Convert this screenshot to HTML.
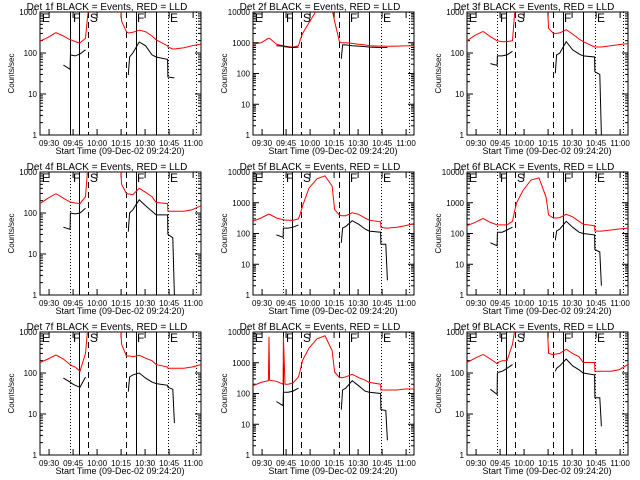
<!DOCTYPE html>
<html><head><meta charset="utf-8"><style>
html,body{margin:0;padding:0;background:#fff}
svg{display:block}
text{font-family:"Liberation Sans",sans-serif;fill:#000}
</style></head><body>
<svg id="chart" width="640" height="480" viewBox="0 0 640 480" xmlns="http://www.w3.org/2000/svg">
<rect x="0" y="0" width="640" height="480" fill="#fff"/>
</svg>
<script>
const times = [0,5,9.6,10,10.4,14.6,18.8,19.0,20,22,25,28.4,29.6,31,35,40,45,49.4,51,54,55.2,56,58,62,66,70,72.6,79.7,79.9,83,84,90,95,100.5];
const n = null;
const red1 = [195,240,310,310,310,260,210,210,205,190,175,230,700,2000,5000,8000,8000,5000,600,330,310,310,320,360,330,260,210,150,140,125,125,135,150,165];
const blk1 = [n,n,n,n,n,51,40,90,88,85,95,120,n,n,n,n,n,n,n,n,29,80,100,185,150,90,80,70,26,25,25,n,n,n];
const red2 = [900,1000,1400,1400,1400,900,800,800,780,750,720,800,1300,2000,4500,12000,12000,12000,5000,1100,1000,1000,1000,950,900,850,800,780,780,770,770,780,790,800];
const blk2 = [n,n,n,n,n,800,780,750,740,720,700,720,n,n,n,n,n,n,n,n,300,850,850,800,780,750,720,700,700,700,700,n,n,n];
const red3 = [200,270,330,330,330,250,200,200,195,190,190,200,800,2000,5000,8000,8000,5000,400,300,300,300,310,370,290,220,190,140,140,140,140,150,160,170];
const blk3 = [n,n,n,n,n,55,50,85,85,85,90,110,n,n,n,n,n,n,n,n,32,90,100,190,120,95,85,80,35,30,1,n,n,n];
const red4 = [170,230,290,290,290,230,185,185,180,175,170,250,1000,3000,6000,8000,8000,5000,500,300,290,290,280,400,320,250,180,170,110,110,110,110,120,150];
const blk4 = [n,n,n,n,n,45,40,100,98,95,100,130,n,n,n,n,n,n,n,n,35,100,120,210,150,110,90,90,30,25,1,n,n,n];
const red5 = [250,320,420,420,420,320,280,280,275,270,270,300,450,800,3000,6000,7500,3500,600,400,380,380,380,470,420,320,270,240,160,150,150,160,180,210];
const blk5 = [n,n,n,n,n,90,75,150,150,150,160,190,n,n,n,n,n,n,n,n,50,150,170,260,200,140,120,110,45,45,3,n,n,n];
const red6 = [180,230,300,300,300,230,190,190,190,190,190,250,500,1000,2500,5500,6500,1500,400,320,320,320,330,420,350,250,200,180,120,120,120,130,140,150];
const blk6 = [n,n,n,n,n,50,40,110,110,110,130,160,n,n,n,n,n,n,n,n,60,120,140,250,160,110,100,90,30,25,2,n,n,n];
const red7 = [180,220,270,270,270,220,160,160,150,140,110,300,1000,3000,6000,8000,8000,5000,500,260,260,260,250,270,230,200,160,140,130,130,130,130,140,160];
const blk7 = [n,n,n,n,n,75,60,60,55,50,45,80,n,n,n,n,n,n,n,n,35,80,90,100,75,60,55,50,45,40,6,n,n,n];
const red8 = [180,230,260,7000,270,250,200,7000,200,200,220,350,600,1200,3000,6000,7500,2500,500,330,330,330,350,420,330,270,230,200,130,130,130,130,140,140];
const blk8 = [n,n,n,n,n,55,40,110,110,110,120,150,n,n,n,n,n,n,n,n,30,130,150,260,180,120,110,100,30,28,3,n,n,n];
const red9 = [180,230,280,280,280,220,170,170,185,200,200,500,1000,3000,6000,8000,8000,5000,300,280,290,290,300,380,300,250,180,180,110,110,110,110,120,160];
const blk9 = [n,n,n,n,n,40,30,100,105,110,130,160,n,n,n,n,n,n,n,n,110,130,150,220,150,120,100,90,25,25,5,n,n,n];
const panelReds = [red1,red2,red3,red4,red5,red6,red7,red8,red9];
const panelBlacks = [blk1,blk2,blk3,blk4,blk5,blk6,blk7,blk8,blk9];
const panelTops = [1000,10000,1000,1000,10000,10000,1000,10000,1000];
const firstLineDotted = [false,false,true,true,true,true,true,false,true];
const tickLabels = ["09:30","09:45","10:00","10:15","10:30","10:45","11:00"];
const tickTimes = [5.67,20.67,35.67,50.67,65.67,80.67,95.67];
const markerTimes = [18.9,24.6,30.2,53.6,59.8,72.7,79.8,97.3];
const markerStyles = ["first","solid","dash","dash","solid","solid","dot","dot"];
const regionLetters = ["E","F","S","F","E"];
const letterTimes = [1.2,20.6,31.2,60.6,81.2];

const NS="http://www.w3.org/2000/svg";
const svg=document.getElementById('chart');
function mk(tag,attrs,parent){const e=document.createElementNS(NS,tag);for(const k in attrs)e.setAttribute(k,attrs[k]);(parent||svg).appendChild(e);return e;}
const L=40,R=201,T=12,B=135,TMAX=100.6;
const xs=t=>L+(R-L)*t/TMAX;

for(let p=0;p<9;p++){
  const ox=Math.round((p%3)*213.33), oy=Math.floor(p/3)*160;
  const top=panelTops[p];
  const ldec=Math.log10(top);
  const ys=v=>B-(B-T)*Math.log10(v)/ldec;
  const g=mk('g',{transform:`translate(${ox},${oy})`});
  
  
  const clipId='clip'+p;
  const cp=mk('clipPath',{id:clipId},g);
  mk('rect',{x:L,y:T,width:R-L,height:B-T},cp);
  // title
  const ti=mk('text',{x:107,y:10,'font-size':'10','text-anchor':'middle'},g);
  ti.textContent=`Det ${p+1}f BLACK = Events, RED = LLD`;
  
  
  // frame
  const fr=mk('rect',{x:L,y:T,width:R-L,height:B-T,fill:'none',stroke:'#000','stroke-width':1},g);
  
  
  // y ticks
  for(let d=0;d<=ldec;d++){
    const y=ys(Math.pow(10,d));
    mk('line',{x1:L,x2:L+6,y1:y,y2:y,stroke:'#000'},g);
    mk('line',{x1:R-6,x2:R,y1:y,y2:y,stroke:'#000'},g);
    const lb=mk('text',{x:L-3,y:y+3,'font-size':'8','text-anchor':'end'},g);
    lb.textContent=String(Math.pow(10,d));
    
    
    if(d<ldec){for(let m=2;m<10;m++){const yy=ys(m*Math.pow(10,d));
      mk('line',{x1:L,x2:L+3,y1:yy,y2:yy,stroke:'#000'},g);
      mk('line',{x1:R-3,x2:R,y1:yy,y2:yy,stroke:'#000'},g);}}
  }
  // x ticks
  tickTimes.forEach((t,i)=>{
    const x=xs(t);
    mk('line',{x1:x,x2:x,y1:B,y2:B-6,stroke:'#000'},g);
    mk('line',{x1:x,x2:x,y1:T,y2:T+6,stroke:'#000'},g);
    const lb=mk('text',{x:x,y:B+11,'font-size':'8','text-anchor':'middle'},g);
    lb.textContent=tickLabels[i];
    
    
  });
  const xt=mk('text',{x:120,y:154,'font-size':'9','text-anchor':'middle'},g);
  xt.textContent='Start Time (09-Dec-02 09:24:20)';
  
  
  const yt=mk('text',{x:0,y:0,'font-size':'8','text-anchor':'middle',transform:`translate(14,${(T+B)/2}) rotate(-90)`},g);
  yt.textContent='Counts/sec';
  
  
  // marker lines
  markerTimes.forEach((t,i)=>{
    let st=markerStyles[i];
    if(st==='first') st=firstLineDotted[p]?'dot':'solid';
    const x=Math.round(xs(t))+0.5;
    const a={x1:x,x2:x,y1:T,y2:B,stroke:'#000','stroke-width':1};
    if(st==='dash') a['stroke-dasharray']='6,4';
    if(st==='dot') a['stroke-dasharray']='1,2';
    const ln=mk('line',a,g);
    
    
  });
  regionLetters.forEach((c,i)=>{
    const tx=mk('text',{x:xs(letterTimes[i]),y:T+10,'font-size':'12'},g);
    tx.textContent=c;
    
    
  });
  // series
  function path(vals){
    let d='',pen=false;
    vals.forEach((v,i)=>{
      if(v===null){pen=false;return;}
      d+=(pen?'L':'M')+xs(times[i]).toFixed(1)+','+ys(v).toFixed(1);
      pen=true;
    });
    return d;
  }
  const rp=mk('path',{d:path(panelReds[p]),fill:'none',stroke:'#ff0000','stroke-width':1,'clip-path':`url(#${clipId})`},g);
  
  
  const bp=mk('path',{d:path(panelBlacks[p]),fill:'none',stroke:'#000','stroke-width':1,'clip-path':`url(#${clipId})`},g);
  
  
}
</script>
</body></html>
